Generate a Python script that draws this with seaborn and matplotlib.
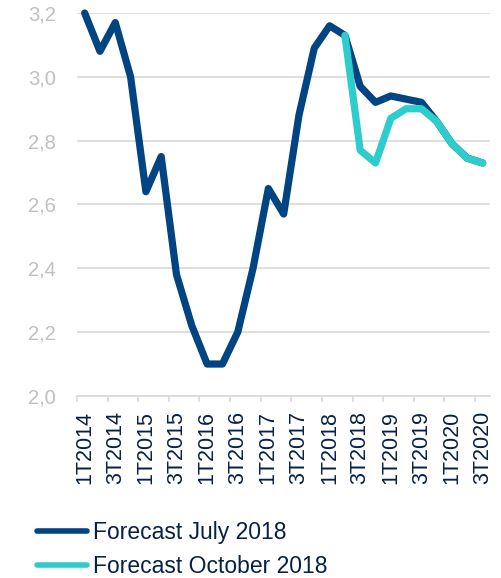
import numpy as np
import pandas as pd
import matplotlib
matplotlib.use("Agg")
import matplotlib.pyplot as plt
import seaborn as sns

# quarters 1T2014 .. 3T2020
quarters = [f"{q}T{y}" for y in range(2014, 2021) for q in range(1, 5)][:27]

july_2018 = [3.20, 3.08, 3.17, 3.00, 2.64, 2.75, 2.38, 2.22, 2.10, 2.10,
             2.20, 2.40, 2.65, 2.57, 2.88, 3.09, 3.16, 3.13, 2.97, 2.92,
             2.94, 2.93, 2.92, 2.86, 2.79, 2.745, 2.73]
october_2018 = [np.nan] * 17 + [3.13, 2.77, 2.73, 2.87, 2.90, 2.90, 2.86,
                                2.79, 2.745, 2.73]

series_names = ["Forecast July 2018", "Forecast October 2018"]
colors = ["#004481", "#2DCCCD"]

df = pd.concat([
    pd.DataFrame({"x": range(len(quarters)), "value": july_2018, "serie": series_names[0]}),
    pd.DataFrame({"x": range(len(quarters)), "value": october_2018, "serie": series_names[1]}),
]).dropna()

sns.set_style("white")
plt.rcParams["font.family"] = ["Liberation Sans", "DejaVu Sans"]

fig = plt.figure(figsize=(5.01, 5.78), dpi=100)
ax = fig.add_axes([0.1537, 0.315, 0.825, 0.6625])

sns.lineplot(data=df, x="x", y="value", hue="serie", palette=colors,
             linewidth=5.2, ax=ax, legend=False)
for ln in ax.get_lines():
    ln.set_clip_on(False)
    ln.set_solid_capstyle("round")

ax.set_xlim(-0.5, 26.5)
ax.set_ylim(2.0, 3.2)
ax.set_yticks(np.arange(2.0, 3.21, 0.2))
ax.set_yticklabels([f"{v:.1f}".replace(".", ",") for v in np.arange(2.0, 3.21, 0.2)],
                   color="#c0c0c0", fontsize=14.5)
ax.yaxis.grid(True, color="#d9d9d9", linewidth=1.2)
ax.set_axisbelow(True)

ax.set_xticks(range(0, 27, 2))
ax.set_xticklabels(quarters[::2], rotation=90, fontsize=15.5, color="#072146")
ax.set_xticks(np.arange(-0.5, 26, 2), minor=True)
ax.tick_params(axis="x", which="major", length=0, pad=11)
ax.tick_params(axis="x", which="minor", length=4, width=1.2, color="#d9d9d9", direction="out")
ax.tick_params(axis="y", length=0, pad=15)
ax.xaxis.set_ticks_position("bottom")
ax.set_xlabel("")
ax.set_ylabel("")

for side in ["top", "right", "left"]:
    ax.spines[side].set_visible(False)
ax.spines["bottom"].set_color("#d9d9d9")
ax.spines["bottom"].set_linewidth(1.2)

handles = [plt.Line2D([], [], color=c, linewidth=4, solid_capstyle="round") for c in colors]
leg = fig.legend(handles, series_names, loc="lower left", bbox_to_anchor=(0.074, 0.0),
                 frameon=False, fontsize=16.5, handlelength=2.2, handletextpad=0.22,
                 labelspacing=0.46, borderpad=0, borderaxespad=0)
for t in leg.get_texts():
    t.set_color("#072146")

fig.savefig("out.png", dpi=100)
